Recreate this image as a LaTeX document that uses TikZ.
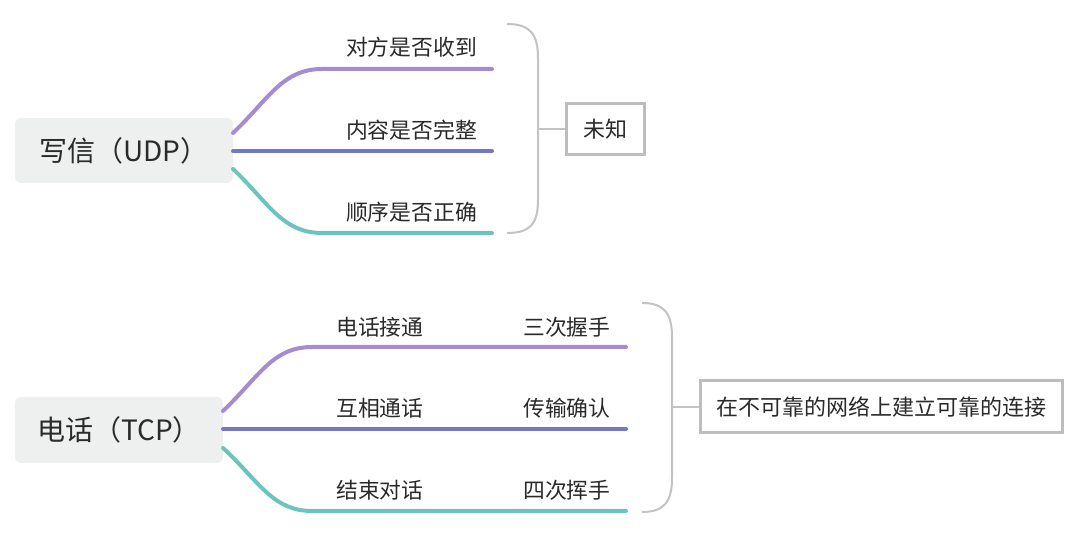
\documentclass[tikz,border=0pt]{standalone}
\usepackage{fontspec}
\setmainfont{Noto Sans CJK SC}
\definecolor{lpurple}{HTML}{A58BD2}
\definecolor{lblue}{HTML}{7378C2}
\definecolor{lteal}{HTML}{6DC4BE}
\definecolor{brgray}{HTML}{C3C3C3}
\definecolor{boxgray}{HTML}{BDBDBD}
\definecolor{rootfill}{HTML}{EEF0F0}
\definecolor{txt}{HTML}{2A2A2A}
\begin{document}
\begin{tikzpicture}[x=1pt,y=-1pt,
  rootbox/.style={fill=rootfill, rounded corners=6pt, text=txt, font=\fontsize{28}{31}\selectfont, inner sep=0pt},
  lbl/.style={text=txt, font=\fontsize{21.8}{24}\selectfont, inner sep=0pt},
  br/.style={line width=4pt, line cap=round},
  brace/.style={draw=brgray, line width=2pt},
  endbox/.style={draw=boxgray, line width=3pt, text=txt, font=\fontsize{22}{24}\selectfont, inner sep=0pt}
]
\useasboundingbox (0,0) rectangle (1080,534);
\fill[white] (0,0) rectangle (1080,534);

% ---------- top ----------
\node[rootbox, minimum width=218pt, minimum height=65pt] (udp) at (124,150.5) {写信（UDP）};
\coordinate (u1s) at (233,133);
\coordinate (u1e) at (492,69);
\coordinate (u2s) at (233,151);
\coordinate (u2e) at (492,151);
\coordinate (u3s) at (233,169);
\coordinate (u3e) at (492,233);
\draw[br, lpurple] (u1s) .. controls (268,100) and (282,69) .. (322,69) -- (u1e);
\draw[br, lblue] (u2s) -- (u2e);
\draw[br, lteal] (u3s) .. controls (268,202) and (282,233) .. (322,233) -- (u3e);
\node[lbl, anchor=east] (ua) at (477,47) {对方是否收到};
\node[lbl, anchor=east] (ub) at (477,130) {内容是否完整};
\node[lbl, anchor=east] (uc) at (477,212) {顺序是否正确};
\coordinate (ubt) at (507,24);
\coordinate (ubb) at (507,233);
\coordinate (ubm) at (538,129);
\draw[brace] (ubt) .. controls (530,24) and (538,34) .. (538,58) -- (538,200) .. controls (538,224) and (530,233) .. (ubb);
\node[endbox, minimum width=78pt, minimum height=51pt] (unk) at (605,129) {未知};
\draw[brace] (ubm) -- (unk.west);

% ---------- bottom ----------
\node[rootbox, minimum width=208pt, minimum height=66pt] (tcp) at (119,430) {电话（TCP）};
\coordinate (t1s) at (223,411);
\coordinate (t1e) at (626,347);
\coordinate (t2s) at (223,429);
\coordinate (t2e) at (626,429);
\coordinate (t3s) at (223,448);
\coordinate (t3e) at (626,511);
\draw[br, lpurple] (t1s) .. controls (258,378) and (272,347) .. (312,347) -- (t1e);
\draw[br, lblue] (t2s) -- (t2e);
\draw[br, lteal] (t3s) .. controls (258,480) and (272,511) .. (312,511) -- (t3e);
\node[lbl, anchor=west] (ta) at (336,327) {电话接通};
\node[lbl, anchor=west] (tb) at (336,408) {互相通话};
\node[lbl, anchor=west] (tc) at (336,490) {结束对话};
\node[lbl, anchor=west] (td) at (523,327) {三次握手};
\node[lbl, anchor=west] (te) at (523,408) {传输确认};
\node[lbl, anchor=west] (tf) at (523,490) {四次挥手};
\coordinate (tbt) at (642,303);
\coordinate (tbb) at (642,512);
\coordinate (tbm) at (672,407);
\draw[brace] (tbt) .. controls (664,303) and (672,313) .. (672,337) -- (672,478) .. controls (672,502) and (664,512) .. (tbb);
\node[endbox, minimum width=362pt, minimum height=52pt] (rel) at (881,407) {在不可靠的网络上建立可靠的连接};
\draw[brace] (tbm) -- (rel.west);
\end{tikzpicture}
\end{document}
